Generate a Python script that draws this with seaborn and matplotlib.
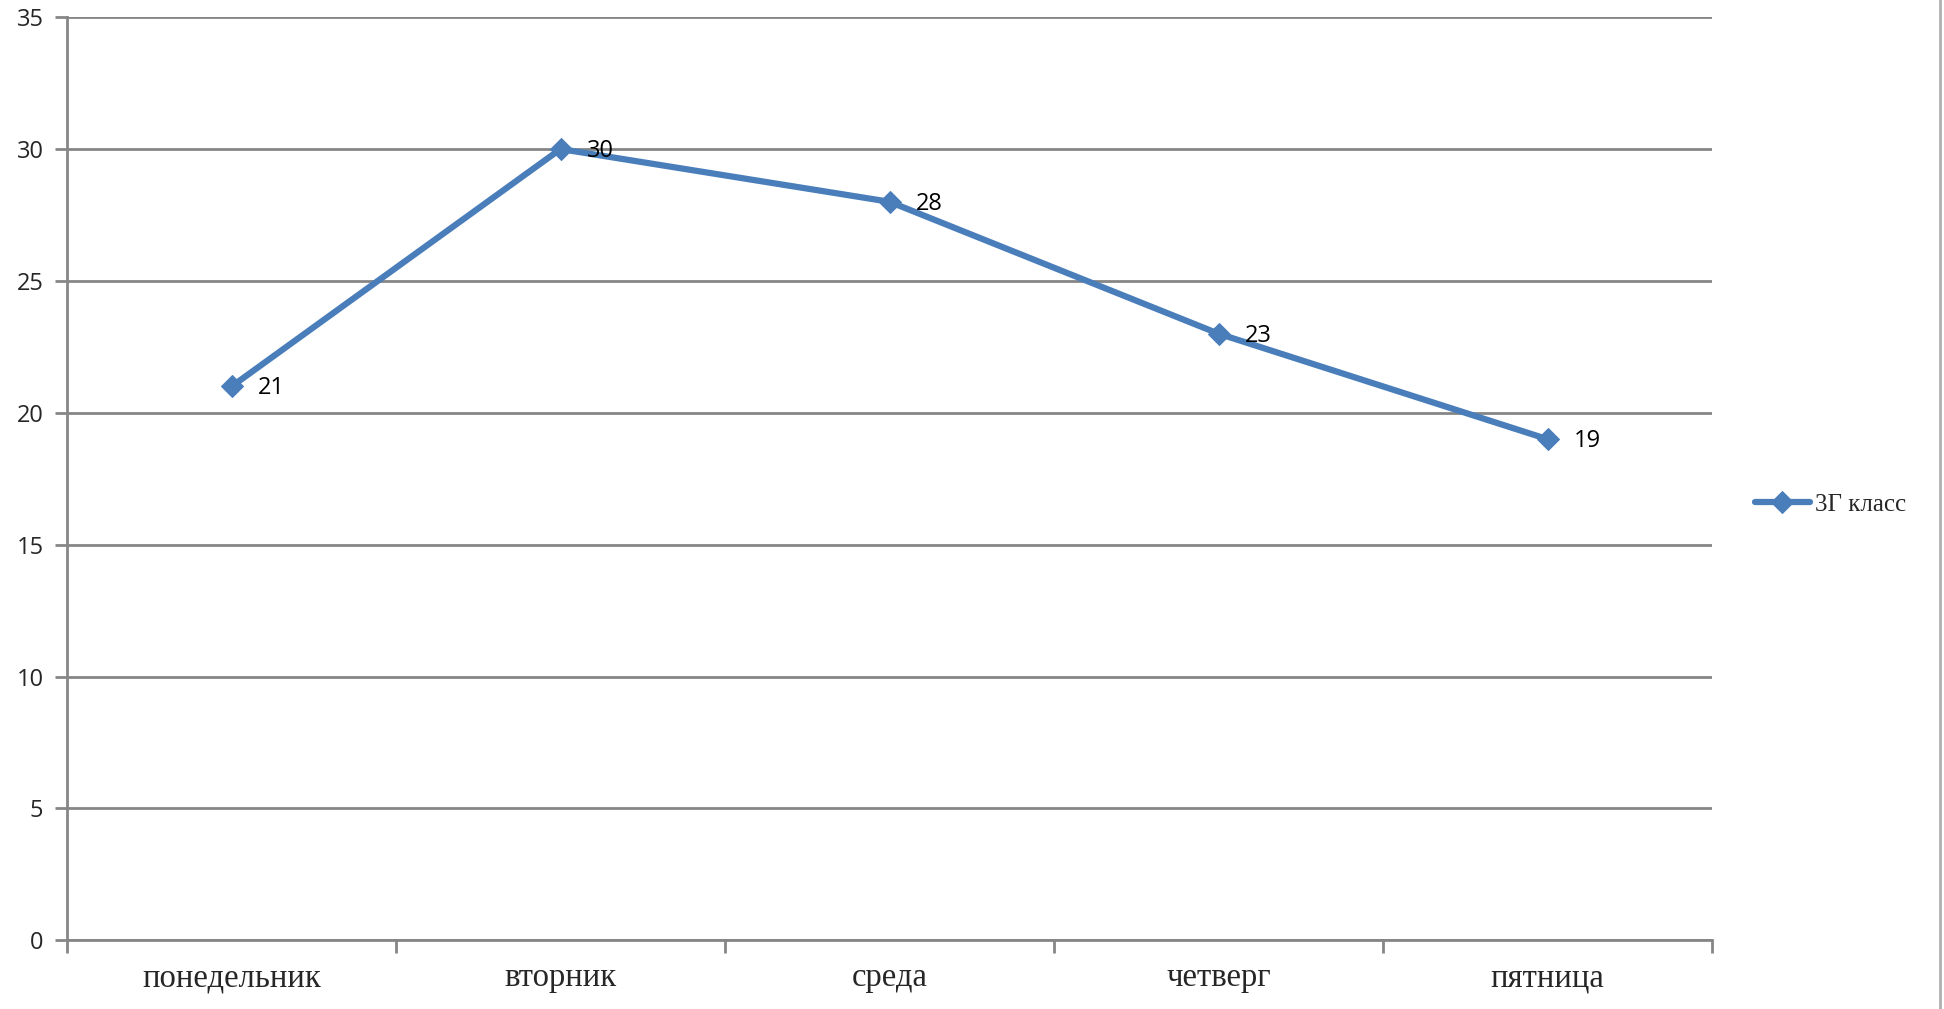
import numpy as np
import pandas as pd
import matplotlib.pyplot as plt
import seaborn as sns
from matplotlib.lines import Line2D

days = ["понедельник", "вторник", "среда", "четверг", "пятница"]
values = [21, 30, 28, 23, 19]
series_name = "3Г класс"

df = pd.DataFrame({"day": days, "value": values, "series": series_name})

sns.set_theme(style="white")
line_color = "#4a7ebb"
grid_color = "#868686"

fig = plt.figure(figsize=(19.44, 10.09), dpi=100)
ax = fig.add_axes([0.0345, 0.068, 0.8462, 0.915])

sns.lineplot(data=df, x="day", y="value", hue="series", palette=[line_color],
             marker="D", markersize=11, markeredgecolor=line_color,
             linewidth=4.5, ax=ax, sort=False)

ax.set_xlim(-0.5, len(days) - 0.5)
ax.set_ylim(0, 35)
ax.set_yticks(np.arange(0, 36, 5))
ax.yaxis.grid(True, color=grid_color, linewidth=2)
ax.set_axisbelow(True)
ax.set_xlabel("")
ax.set_ylabel("")

for s in ["top", "right"]:
    ax.spines[s].set_visible(False)
for s in ["left", "bottom"]:
    ax.spines[s].set_color(grid_color)
    ax.spines[s].set_linewidth(2)

# category labels centred, ticks on boundaries
ax.set_xticks(range(len(days)))
ax.set_xticklabels(days, family="Liberation Serif", fontsize=23.5)
ax.tick_params(axis="x", which="major", length=0, pad=16, bottom=True)
ax.set_xticks(np.arange(-0.5, len(days), 1), minor=True)
ax.tick_params(axis="x", which="minor", length=9, width=2, color=grid_color,
               direction="out", bottom=True)
ax.tick_params(axis="y", length=9, width=2, color=grid_color, direction="out",
               left=True, pad=8)
for lab in ax.get_yticklabels():
    lab.set_family("Open Sans")
    lab.set_fontsize(17)

for i, v in enumerate(values):
    ax.annotate(str(v), (i, v), xytext=(26, -2), textcoords="offset pixels",
                va="center", ha="left", fontsize=17, family="Open Sans",
                color="black")

leg = ax.legend(loc="center left", bbox_to_anchor=(0.891, 0.5),
                bbox_transform=fig.transFigure, frameon=False,
                prop={"family": "Liberation Serif", "size": 18},
                handlelength=2.2, handletextpad=0.2)

fig.add_artist(Line2D([0.998, 0.998], [0, 1], color="#b0b0b0", linewidth=2,
                      transform=fig.transFigure))

fig.savefig("out.png", dpi=100)
